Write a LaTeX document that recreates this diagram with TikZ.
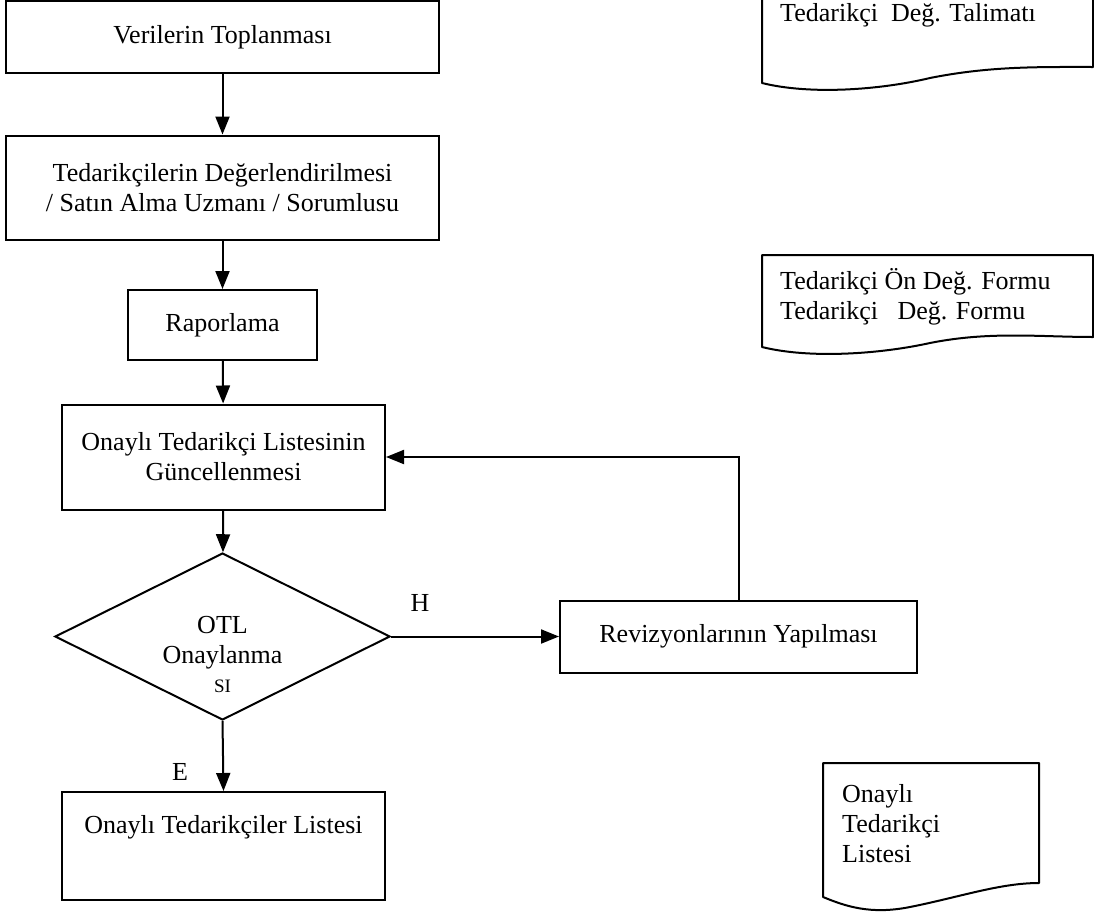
\documentclass[tikz,border=0pt]{standalone}
\usepackage{fontspec}
\setmainfont{Liberation Serif}
\usetikzlibrary{arrows.meta,shapes.geometric}
\begin{document}
\begin{tikzpicture}[x=1pt,y=-1pt,
  every node/.style={font=\fontsize{26}{30}\selectfont},
  box/.style={draw,line width=2pt,rectangle,inner sep=0pt,align=center},
  dec/.style={draw,line width=2pt,diamond,inner sep=0pt,minimum width=335pt,minimum height=167pt,shape aspect=2},
  txt/.style={inner sep=0pt,align=center},
  doctxt/.style={inner sep=0pt,align=left,anchor=west},
  flow/.style={line width=2pt,-{Triangle[length=18pt,width=14pt]}},
  docline/.style={line width=2pt,line join=round}]
\useasboundingbox (0,0) rectangle (1094,918);
% main boxes
\node[box,minimum width=433pt,minimum height=72pt] (b1) at (222.5,37) {Verilerin Toplanması};
\node[box,minimum width=433pt,minimum height=104pt] (b2) at (222.5,187.5) {Tedarikçilerin Değerlendirilmesi\\/ Satın Alma Uzmanı / Sorumlusu};
\node[box,minimum width=189pt,minimum height=70pt] (b3) at (222.5,325) {Raporlama};
\node[box,minimum width=323pt,minimum height=105pt] (b4) at (223.5,457) {Onaylı Tedarikçi Listesinin\\Güncellenmesi};
\node[dec] (d) at (222.5,636.5) {};
\node[txt] (dt) at (222.5,654) {OTL\\Onaylanma\\[-1pt]{\fontsize{19}{22}\selectfont SI}};
\node[box,minimum width=357pt,minimum height=72pt] (rv) at (738.5,636.5) {Revizyonlarının Yapılması};
\node[box,minimum width=323pt,minimum height=108pt] (b5) at (223.5,846) {Onaylı Tedarikçiler Listesi\\[4pt]\strut};
% labels
\node[txt] (lh) at (420,603) {H};
\node[txt] (le) at (180,772) {E};
% connectors
\draw[flow] (b1) -- (b2);
\draw[flow] (b2) -- (b3);
\draw[flow] (b3) -- (b4);
\draw[flow] (b4) -- (d);
\draw[flow] (d.east) -- (rv.west);
\draw[flow] (d.south) -- (b5.north);
\coordinate (c1) at (rv.north |- b4.east);
\draw[flow] (rv.north) -- (c1) -- (b4.east);
% documents
\draw[docline] (762,-2) -- (762,83) .. controls (810,95) and (880,90) .. (930,78) .. controls (990,66) and (1040,67) .. (1093,67) -- (1093,-2);
\node[doctxt] (t1) at (780,15) {Tedarikçi\ \ Değ. Talimatı};
\draw[docline] (762,255) -- (762,347) .. controls (810,359) and (880,354) .. (930,343) .. controls (990,331) and (1040,337) .. (1093,337) -- (1093,255) -- cycle;
\node[doctxt] (t2) at (780,297) {Tedarikçi Ön Değ. Formu\\Tedarikçi\ \ \ Değ. Formu};
\draw[docline] (823,763) -- (823,897) .. controls (845,906) and (870,915) .. (910,907) .. controls (960,897) and (1000,883) .. (1039,883) -- (1039,763) -- cycle;
\node[doctxt] (t3) at (842,824) {Onaylı\\Tedarikçi\\Listesi};
\end{tikzpicture}
\end{document}
